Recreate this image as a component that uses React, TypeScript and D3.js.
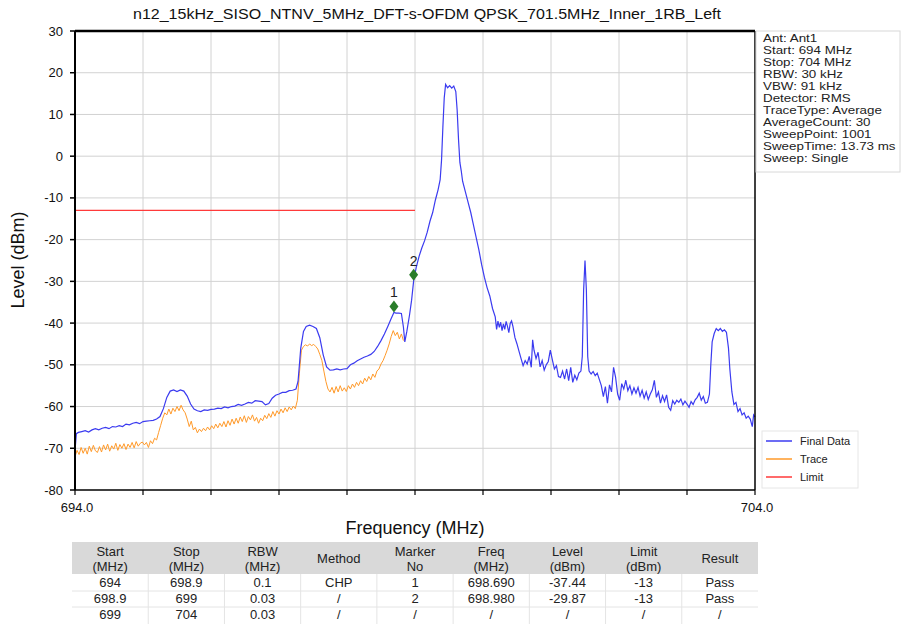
import React from "react";
import * as d3 from "d3";

const finalFreq = [
  694.00,694.02,694.05,694.10,694.15,694.20,694.25,694.30,694.35,694.40,694.45,694.50,694.55,694.60,694.65,694.70,694.75,694.80,694.85,694.90,694.95,
  695.00,695.05,695.10,695.15,695.20,695.25,695.30,695.35,695.40,695.45,695.50,695.55,695.60,695.65,695.70,695.75,695.80,695.85,695.90,695.95,
  696.00,696.05,696.10,696.15,696.20,696.25,696.30,696.35,696.40,696.45,696.50,696.55,696.60,696.65,696.70,696.75,696.80,696.85,696.90,696.95,
  697.00,697.05,697.10,697.15,697.20,697.25,697.28,697.32,697.36,697.40,697.45,697.50,697.55,697.60,697.65,697.70,697.75,697.80,697.85,697.90,697.95,
  698.00,698.05,698.10,698.15,698.20,698.25,698.30,698.35,698.40,698.45,698.50,698.55,698.60,698.65,698.69,698.72,698.76,698.80,698.83,698.85,698.88,698.92,698.95,698.98,
  699.02,699.06,699.10,699.14,699.18,699.22,699.26,699.30,699.34,699.37,699.39,699.41,699.43,699.45,699.48,699.51,699.54,699.57,699.60,699.62,699.64,699.66,699.68,699.70,699.74,699.78,699.82,699.86,699.90,699.94,699.98,
  700.02,700.06,700.10,700.14,700.18,700.20,700.22,700.24,700.26,700.28,700.30,700.32,700.34,700.36,700.38,700.40,700.42,700.44,700.47,700.50,700.53,700.56,700.59,700.62,700.65,700.68,700.71,700.73,700.75,700.78,700.81,700.84,700.87,700.90,700.93,700.96,700.99,
  701.02,701.05,701.08,701.11,701.14,701.17,701.20,701.23,701.26,701.29,701.32,701.35,701.38,701.41,701.44,701.46,701.48,701.50,701.52,701.54,701.56,701.59,701.62,701.65,701.68,701.71,701.74,701.77,701.80,701.83,701.86,701.89,701.92,701.95,701.98,
  702.01,702.04,702.07,702.10,702.13,702.16,702.19,702.22,702.25,702.28,702.31,702.34,702.37,702.40,702.43,702.46,702.49,702.52,702.55,702.58,702.61,702.64,702.67,702.70,702.73,702.76,702.79,702.82,702.85,702.88,702.91,702.94,702.97,
  703.00,703.03,703.06,703.09,703.12,703.15,703.18,703.21,703.24,703.27,703.30,703.33,703.35,703.37,703.40,703.43,703.46,703.49,703.52,703.55,703.58,703.61,703.63,703.66,703.69,703.72,703.75,703.78,703.81,703.84,703.87,703.90,703.93,703.96,703.98,704.00,
];
const finalLevel = [
  -70.5,-66.5,-66.2,-66.0,-65.8,-66.1,-65.6,-65.3,-65.6,-65.2,-65.0,-65.3,-64.8,-64.9,-64.6,-64.8,-64.2,-64.4,-64.0,-63.8,-64.1,
  -63.6,-63.5,-63.4,-63.3,-63.0,-62.4,-60.5,-57.8,-56.3,-56.0,-56.4,-56.0,-56.3,-57.5,-59.4,-60.6,-61.0,-61.2,-60.8,-60.9,
  -60.7,-60.6,-60.4,-60.5,-60.1,-60.3,-60.0,-59.9,-59.5,-59.7,-59.4,-59.0,-59.2,-58.6,-58.7,-58.8,-59.6,-59.3,-58.0,-57.3,
  -57.0,-56.6,-56.6,-56.2,-56.1,-55.8,-54.0,-46.0,-42.0,-40.8,-40.5,-40.8,-41.3,-43.5,-47.6,-50.5,-51.3,-51.2,-51.0,-51.2,-51.0,
  -50.9,-50.0,-49.6,-49.0,-48.6,-48.2,-47.9,-47.5,-46.8,-45.6,-44.2,-42.6,-40.8,-38.9,-37.44,-37.6,-37.6,-37.7,-41.0,-44.5,-42.0,-38.0,-34.5,-29.87,
  -26.5,-24.0,-22.0,-20.3,-18.2,-15.6,-13.5,-10.5,-8.0,-5.6,-1.0,7.0,14.0,17.2,16.4,16.9,16.3,16.8,15.5,11.0,4.0,-1.5,-3.5,-6.0,-8.5,-11.0,-13.5,-16.5,-19.5,-22.5,-26.0,
  -29.0,-31.5,-33.5,-36.5,-38.5,-41.5,-39.5,-41.0,-39.8,-41.8,-40.2,-41.5,-39.6,-40.8,-42.3,-40.1,-39.5,-40.8,-43.5,-45.0,-46.8,-48.5,-50.2,-49.0,-49.8,-48.0,-50.6,-44.0,-46.5,-48.5,-47.0,-50.5,-49.0,-51.3,-50.0,-49.2,-46.5,
  -48.8,-51.0,-50.2,-52.8,-53.0,-51.5,-53.4,-51.0,-53.8,-50.6,-54.2,-52.5,-53.6,-52.0,-51.5,-48.0,-32.0,-25.0,-32.0,-48.0,-51.5,-52.2,-51.6,-52.6,-52.0,-53.5,-55.0,-57.6,-55.2,-59.2,-54.8,-56.5,-50.6,-53.0,-57.0,
  -58.5,-54.5,-55.8,-53.7,-56.2,-55.0,-57.0,-55.5,-56.8,-55.4,-57.5,-56.1,-58.0,-56.5,-58.3,-57.0,-56.0,-53.7,-57.8,-56.5,-59.2,-57.4,-58.8,-57.2,-60.2,-60.9,-58.6,-59.4,-58.5,-59.0,-58.2,-59.6,-58.7,
  -59.4,-60.2,-58.8,-59.5,-58.4,-57.8,-56.8,-58.5,-57.6,-59.2,-59.0,-57.0,-50.0,-44.5,-42.5,-41.3,-41.8,-41.3,-42.0,-41.6,-42.2,-46.0,-51.0,-56.5,-59.5,-59.0,-61.2,-60.5,-62.0,-61.5,-62.8,-62.3,-63.0,-64.8,-62.0,-62.5,
];

const traceFreq = [
  694.00,694.03,694.06,694.09,694.12,694.15,694.18,694.21,694.24,694.27,694.30,694.33,694.36,694.39,694.42,694.45,694.48,694.51,694.54,694.57,694.60,694.63,694.66,694.69,694.72,694.75,694.78,694.81,694.84,694.87,694.90,694.93,694.96,694.99,
  695.02,695.05,695.08,695.11,695.14,695.17,695.20,695.23,695.26,695.29,695.32,695.35,695.38,695.41,695.44,695.47,695.50,695.53,695.56,695.59,695.62,695.65,695.68,695.71,695.74,695.77,695.80,695.83,695.86,695.89,695.92,695.95,695.98,
  696.01,696.04,696.07,696.10,696.13,696.16,696.19,696.22,696.25,696.28,696.31,696.34,696.37,696.40,696.43,696.46,696.49,696.52,696.55,696.58,696.61,696.64,696.67,696.70,696.73,696.76,696.79,696.82,696.85,696.88,696.91,696.94,696.97,
  697.00,697.03,697.06,697.09,697.12,697.15,697.18,697.21,697.24,697.27,697.30,697.33,697.36,697.39,697.42,697.45,697.48,697.51,697.54,697.57,697.60,697.63,697.66,697.69,697.72,697.75,697.78,697.81,697.84,697.87,697.90,697.93,697.96,697.99,
  698.02,698.05,698.08,698.11,698.14,698.17,698.20,698.23,698.26,698.29,698.32,698.35,698.38,698.41,698.44,698.47,698.50,698.53,698.56,698.59,698.62,698.65,698.68,698.71,698.74,698.77,698.80,698.83,
];
const traceLevel = [
  -72.0,-70.5,-71.5,-69.8,-71.2,-70.0,-71.4,-69.5,-70.8,-69.3,-70.6,-71.0,-69.6,-70.9,-69.2,-70.4,-69.0,-70.7,-69.4,-70.2,-68.8,-70.5,-69.1,-70.0,-68.9,-70.3,-69.0,-69.8,-68.6,-69.9,-68.4,-69.5,-68.8,-68.5,
  -69.2,-68.6,-69.8,-68.2,-68.9,-67.6,-68.0,-66.2,-64.5,-62.8,-61.5,-62.0,-60.6,-61.8,-60.4,-61.2,-60.0,-61.0,-59.7,-60.8,-61.5,-63.0,-64.8,-63.5,-65.6,-65.0,-66.3,-65.4,-66.0,-65.2,-65.8,-64.9,-65.6,
  -64.6,-65.3,-64.2,-65.1,-64.0,-64.8,-63.6,-64.9,-63.4,-64.5,-63.0,-64.2,-62.8,-64.0,-62.5,-63.6,-62.2,-63.8,-62.4,-63.2,-62.0,-63.5,-62.6,-64.0,-62.8,-63.4,-62.1,-62.9,-61.7,-62.6,-61.2,-62.3,-61.0,
  -61.8,-60.6,-61.5,-60.3,-61.2,-60.1,-60.8,-59.9,-60.5,-58.5,-52.0,-46.5,-45.6,-45.2,-45.5,-45.0,-45.4,-45.1,-45.6,-46.2,-47.5,-48.9,-51.5,-54.0,-55.8,-56.5,-55.4,-56.8,-55.2,-56.5,-55.0,-56.3,-55.5,-56.4,
  -55.0,-55.8,-54.6,-55.4,-54.2,-55.0,-53.8,-54.6,-53.2,-54.0,-52.8,-53.6,-52.2,-53.0,-51.5,-51.0,-49.8,-49.0,-47.8,-46.5,-45.0,-43.2,-41.8,-43.0,-42.2,-43.8,-42.6,-44.2,
];

const limitFreq = [694, 699];
const limitLevel = [-13, -13];

const markerNo = ["1", "2"];
const markerFreq = [698.69, 698.98];
const markerLevel = [-37.44, -29.87];

const yTicks = [30, 20, 10, 0, -10, -20, -30, -40, -50, -60, -70, -80];
const xGridTicks = [695, 696, 697, 698, 699, 700, 701, 702, 703];
const xLabelTicks = [694, 704];

const title = "n12_15kHz_SISO_NTNV_5MHz_DFT-s-OFDM QPSK_701.5MHz_Inner_1RB_Left";
const infoLines = [
  "Ant: Ant1",
  "Start: 694 MHz",
  "Stop: 704 MHz",
  "RBW: 30 kHz",
  "VBW: 91 kHz",
  "Detector: RMS",
  "TraceType: Average",
  "AverageCount: 30",
  "SweepPoint: 1001",
  "SweepTime: 13.73 ms",
  "Sweep: Single",
];
const legendNames = ["Final Data", "Trace", "Limit"];

const tableHeaders = [
  ["Start", "(MHz)"],
  ["Stop", "(MHz)"],
  ["RBW", "(MHz)"],
  ["Method"],
  ["Marker", "No"],
  ["Freq", "(MHz)"],
  ["Level", "(dBm)"],
  ["Limit", "(dBm)"],
  ["Result"],
];
const tableRows = [
  ["694", "698.9", "0.1", "CHP", "1", "698.690", "-37.44", "-13", "Pass"],
  ["698.9", "699", "0.03", "/", "2", "698.980", "-29.87", "-13", "Pass"],
  ["699", "704", "0.03", "/", "/", "/", "/", "/", "/"],
];

const BLUE = "#3b3bf0";
const ORANGE = "#ff9a2a";
const RED = "#ff3a3a";
const GREEN = "#2a7d2a";
const FONT = "'Liberation Sans', Arial, sans-serif";

export default function App() {
  const W = 902, H = 631;
  const x = d3.scaleLinear().domain([694, 704]).range([75, 755]);
  const y = d3.scaleLinear().domain([-80, 30]).range([490, 31]);

  const line = d3
    .line<[number, number]>()
    .x((d) => x(d[0]))
    .y((d) => y(d[1]));

  const finalPts = finalFreq.map((f, i) => [f, finalLevel[i]] as [number, number]);
  const tracePts = traceFreq.map((f, i) => [f, traceLevel[i]] as [number, number]);
  const limitPts = limitFreq.map((f, i) => [f, limitLevel[i]] as [number, number]);

  const colX = d3.scaleLinear().domain([0, 9]).range([72, 758]);
  const colW = colX(1) - colX(0);

  return (
    <svg
      width={W}
      height={H}
      style={{ position: "absolute", left: 0, top: 0, background: "#fff" }}
      fontFamily={FONT}
    >
      <rect x={0} y={0} width={W} height={H} fill="#fff" />
      {/* title */}
      <text
        x={427}
        y={19}
        textAnchor="middle"
        fontSize={15}
        fill="#111"
        textLength={588}
        lengthAdjust="spacingAndGlyphs"
      >
        {title}
      </text>

      {/* grid */}
      {xGridTicks.map((t) => (
        <line key={"gx" + t} x1={x(t)} x2={x(t)} y1={y(30)} y2={y(-80)} stroke="#d2d2d2" strokeWidth={1} />
      ))}
      {yTicks.slice(1, -1).map((t) => (
        <line key={"gy" + t} x1={x(694)} x2={x(704)} y1={y(t)} y2={y(t)} stroke="#d2d2d2" strokeWidth={1} />
      ))}

      {/* limit */}
      <path d={line(limitPts) || ""} fill="none" stroke={RED} strokeWidth={1.3} />
      {/* trace */}
      <path d={line(tracePts) || ""} fill="none" stroke={ORANGE} strokeWidth={1} />
      {/* final data */}
      <path d={line(finalPts) || ""} fill="none" stroke={BLUE} strokeWidth={1.2} />

      {/* markers */}
      {markerFreq.map((f, i) => {
        const cx = x(f);
        const cy = y(markerLevel[i]) - 6;
        return (
          <g key={"m" + i}>
            <path
              d={`M${cx},${cy - 6} L${cx + 4.5},${cy} L${cx},${cy + 6} L${cx - 4.5},${cy} Z`}
              fill={GREEN}
            />
            <text x={cx} y={cy - 9} textAnchor="middle" fontSize={14} fill="#222">
              {markerNo[i]}
            </text>
          </g>
        );
      })}

      {/* frame */}
      <line x1={x(694)} x2={x(704)} y1={y(30)} y2={y(30)} stroke="#000" strokeWidth={2.5} />
      <line x1={x(704)} x2={x(704)} y1={y(30)} y2={y(-80)} stroke="#000" strokeWidth={1.5} />
      <line x1={x(694)} x2={x(704)} y1={y(-80)} y2={y(-80)} stroke="#000" strokeWidth={1.5} />
      <line x1={x(694)} x2={x(694)} y1={y(30)} y2={y(-80)} stroke="#000" strokeWidth={2} />

      {/* y ticks */}
      {yTicks.map((t) => (
        <g key={"yt" + t}>
          <line x1={x(694) - 5} x2={x(694)} y1={y(t)} y2={y(t)} stroke="#000" strokeWidth={1.5} />
          <text x={63} y={y(t) + 4.5} textAnchor="end" fontSize={13} fill="#111">
            {t}
          </text>
        </g>
      ))}
      {/* x ticks */}
      {[...xLabelTicks, ...xGridTicks].map((t) => (
        <line key={"xt" + t} x1={x(t)} x2={x(t)} y1={y(-80)} y2={y(-80) + 5} stroke="#000" strokeWidth={1.2} />
      ))}
      {xLabelTicks.map((t) => (
        <text key={"xl" + t} x={x(t) + 2} y={512} textAnchor="middle" fontSize={13} fill="#111">
          {t.toFixed(1)}
        </text>
      ))}

      {/* axis titles */}
      <text x={415} y={534} textAnchor="middle" fontSize={18} fill="#111">
        Frequency (MHz)
      </text>
      <text
        transform={`translate(24,260) rotate(-90)`}
        textAnchor="middle"
        fontSize={18}
        fill="#111"
      >
        Level (dBm)
      </text>

      {/* info box */}
      <rect x={756} y={31} width={144} height={141} fill="#fff" stroke="#d8d8d8" />
      <g transform="translate(763,0) scale(1.25,1)">
        {infoLines.map((s, i) => (
          <text key={"info" + i} x={0} y={42 + i * 12} fontSize={10.7} fill="#222">
            {s}
          </text>
        ))}
      </g>

      {/* legend */}
      <rect x={762} y={431} width={96} height={57} fill="#fff" stroke="#e6e6e6" />
      {legendNames.map((n, i) => (
        <g key={"lg" + i}>
          <line
            x1={766}
            x2={792}
            y1={441 + i * 18}
            y2={441 + i * 18}
            stroke={[BLUE, ORANGE, RED][i]}
            strokeWidth={1.5}
          />
          <text x={800} y={445 + i * 18} fontSize={11} fill="#222">
            {n}
          </text>
        </g>
      ))}

      {/* table */}
      <rect x={colX(0)} y={542} width={colX(9) - colX(0)} height={32} fill="#d9d9d9" />
      {tableHeaders.map((h, i) => {
        const cx = colX(i) + colW / 2;
        return h.length === 2 ? (
          <g key={"th" + i}>
            <text x={cx} y={556} textAnchor="middle" fontSize={13} fill="#222">
              {h[0]}
            </text>
            <text x={cx} y={571} textAnchor="middle" fontSize={13} fill="#222">
              {h[1]}
            </text>
          </g>
        ) : (
          <text key={"th" + i} x={cx} y={563} textAnchor="middle" fontSize={13} fill="#222">
            {h[0]}
          </text>
        );
      })}
      {[1, 2, 3, 4, 5, 6, 7, 8].map((i) => (
        <line key={"cs" + i} x1={colX(i)} x2={colX(i)} y1={574} y2={624} stroke="#e4e4e4" />
      ))}
      {[591, 607].map((yy) => (
        <line key={"rs" + yy} x1={colX(0)} x2={colX(9)} y1={yy} y2={yy} stroke="#e4e4e4" />
      ))}
      {tableRows.map((r, ri) =>
        r.map((c, ci) => (
          <text
            key={"td" + ri + "_" + ci}
            x={colX(ci) + colW / 2}
            y={587 + ri * 16}
            textAnchor="middle"
            fontSize={13}
            fill="#222"
          >
            {c}
          </text>
        ))
      )}
    </svg>
  );
}
